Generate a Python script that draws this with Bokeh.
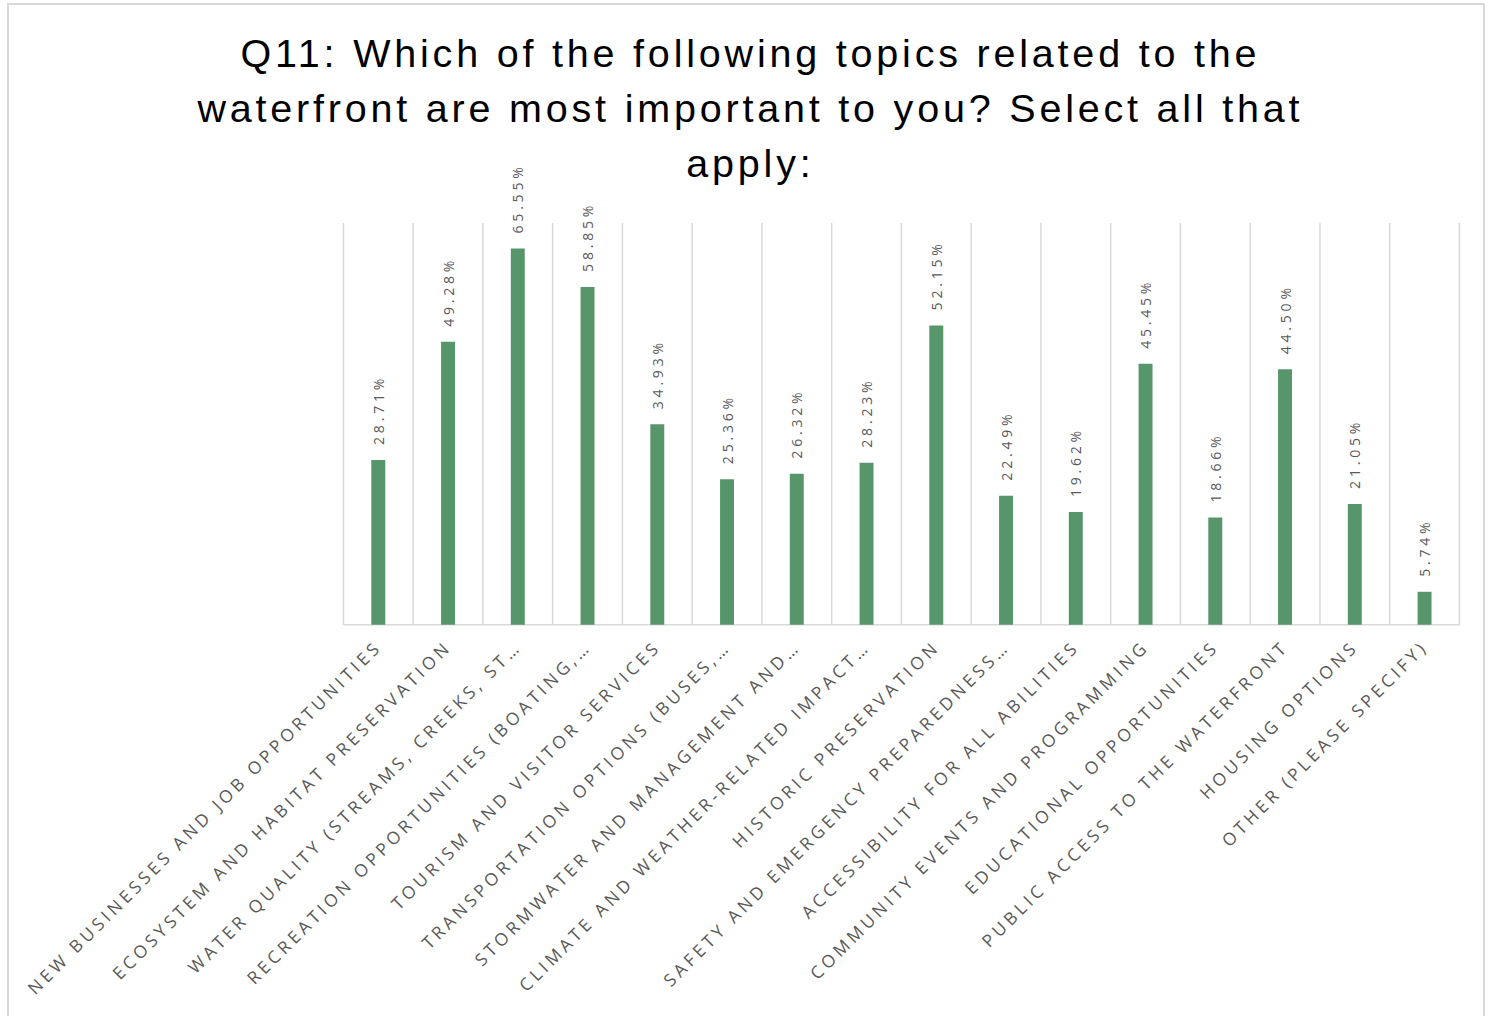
from math import pi, sqrt
from bokeh.plotting import figure
from bokeh.models import ColumnDataSource
from bokeh.core.properties import value
from bokeh.embed import file_html
from bokeh.resources import INLINE

# ---------------- data ----------------
categories = [
    "NEW BUSINESSES AND JOB OPPORTUNITIES",
    "ECOSYSTEM AND HABITAT PRESERVATION",
    "WATER QUALITY (STREAMS, CREEKS, ST…",
    "RECREATION OPPORTUNITIES (BOATING,…",
    "TOURISM AND VISITOR SERVICES",
    "TRANSPORTATION OPTIONS (BUSES,…",
    "STORMWATER AND MANAGEMENT AND…",
    "CLIMATE AND WEATHER-RELATED IMPACT…",
    "HISTORIC PRESERVATION",
    "SAFETY AND EMERGENCY PREPAREDNESS…",
    "ACCESSIBILITY FOR ALL ABILITIES",
    "COMMUNITY EVENTS AND PROGRAMMING",
    "EDUCATIONAL OPPORTUNITIES",
    "PUBLIC ACCESS TO THE WATERFRONT",
    "HOUSING OPTIONS",
    "OTHER (PLEASE SPECIFY)",
]
percentages = [28.71, 49.28, 65.55, 58.85, 34.93, 25.36, 26.32, 28.23,
               52.15, 22.49, 19.62, 45.45, 18.66, 44.50, 21.05, 5.74]
title_lines = ["Q11: Which of the following topics related to the",
               "waterfront are most important to you? Select all that",
               "apply:"]
Y_MAX = 70  # value axis maximum

# ---------------- layout (pixels) ----------------
SPACING = 3.8                      # css letter-spacing used for all texts
CANVAS_L, CANVAS_R = 9, 1483
CANVAS_T, CANVAS_B = 5, 1016
PLOT_L, PLOT_R = 342, 1455         # pixel x of category edges 0 and N
PLOT_T, PLOT_B = 222, 623          # pixel y of Y_MAX and 0
n = len(categories)
ux = (PLOT_R - PLOT_L) / n
uy = (PLOT_B - PLOT_T) / Y_MAX
x_start = -(PLOT_L - CANVAS_L) / ux
x_end = n + (CANVAS_R - PLOT_R) / ux
y_start = -(CANVAS_B - PLOT_B) / uy
y_end = Y_MAX + (PLOT_T - CANVAS_T) / uy

def py_to_y(py):
    return (PLOT_B - py) / uy

xs = [i + 0.5 for i in range(n)]
r2 = sqrt(0.5)

bars = ColumnDataSource(dict(x=xs, top=percentages,
                             label=[f"{v:.2f}%" for v in percentages]))
comp = [(len(c) - 1) * SPACING for c in categories]
ticks = ColumnDataSource(dict(
    x=xs, y=[0] * n, text=categories,
    xo=[-3 - c * r2 for c in comp], yo=[21 + c * r2 for c in comp]))
grid = ColumnDataSource(dict(x=list(range(n + 1)), y0=[0] * (n + 1),
                             y1=[Y_MAX] * (n + 1)))
title_src = ColumnDataSource(dict(
    x=[(x_start + x_end) / 2] * 3,
    y=[py_to_y(v) for v in (52, 107, 162)],
    text=title_lines,
    xo=[-(len(t) - 1) * SPACING / 2 for t in title_lines]))

W = CANVAS_R - CANVAS_L + 4
H = CANVAS_B - CANVAS_T + 2
p = figure(width=W, height=H, output_backend="svg", toolbar_location=None,
           title=None, x_axis_type=None, y_axis_type=None,
           x_range=(x_start, x_end), y_range=(y_start, y_end),
           min_border=0, min_border_left=0, min_border_right=0,
           min_border_top=0, min_border_bottom=0,
           outline_line_color=None,
           background_fill_color="white", border_fill_color="white",
           styles={"border": "2px solid #d9d9d9", "border-bottom": "none",
                   "margin-left": "7px", "margin-top": "3px",
                   "letter-spacing": f"{SPACING}px"})
p.xgrid.visible = False
p.ygrid.visible = False

# category separators and category axis line
p.segment(x0="x", y0="y0", x1="x", y1="y1", source=grid,
          line_color="#d9d9d9", line_width=1.5)
p.segment(x0=[0], y0=[0], x1=[n], y1=[0], line_color="#d9d9d9", line_width=1.5)

# bars and value labels
p.vbar(x="x", top="top", width=0.2, bottom=0, source=bars,
       fill_color="#57956A", line_color=None)
p.text(x="x", y="top", text="label", source=bars, angle=pi / 2,
       text_align="left", text_baseline="middle", y_offset=-15,
       text_font=value("Open Sans"), text_font_size="14px",
       text_color="#595959")

# category tick labels
p.text(x="x", y="y", text="text", source=ticks, angle=pi / 4,
       x_offset="xo", y_offset="yo", text_align="right",
       text_baseline="middle", text_font=value("Open Sans"),
       text_font_size="17.4px", text_color="#595959")

# title
p.text(x="x", y="y", text="text", source=title_src, x_offset="xo",
       text_align="center", text_baseline="alphabetic",
       text_font=value("Liberation Sans"), text_font_size="39.5px",
       text_color="black")

open("out.html", "w").write(file_html(p, INLINE))
